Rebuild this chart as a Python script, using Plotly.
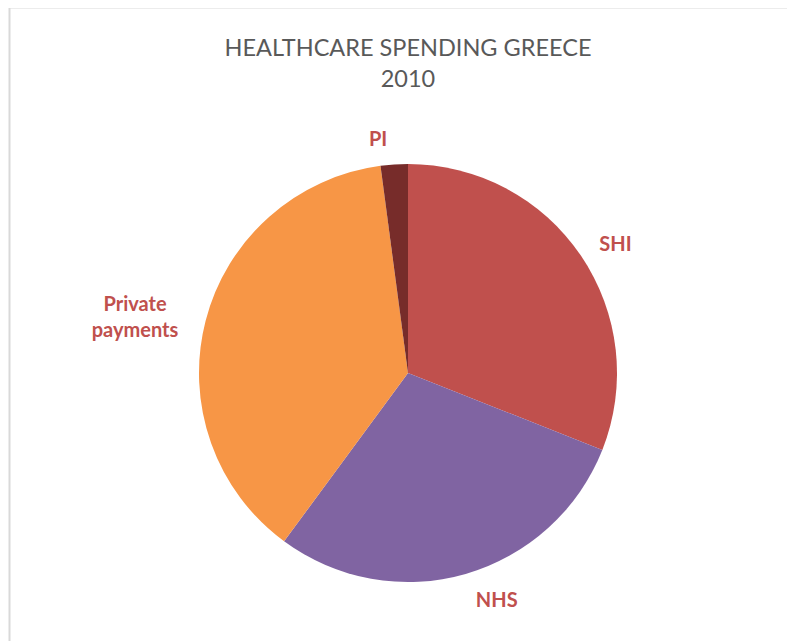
import plotly.graph_objects as go

labels = ["SHI", "NHS", "Private<br>payments", "PI"]
values = [31.0, 29.1, 37.8, 2.1]
colors = ["#C0504D", "#8064A2", "#F79646", "#772C2A"]
title_text = "HEALTHCARE SPENDING GREECE<br>2010"

W, H = 795, 641
OFF = 8  # page body margin
cx, cy, r = 408 - OFF, 373 - OFF, 209
rl = 224  # radius of the invisible label-carrying pie

def dom(rad):
    return dict(x=[(cx - rad) / W, (cx + rad) / W], y=[1 - (cy + rad) / H, 1 - (cy - rad) / H])

lab_font = dict(family="Lato", size=20, color="#C0504D", weight="bold")

fig = go.Figure()
fig.add_trace(go.Pie(
    labels=labels, values=values, sort=False, direction="clockwise", rotation=0,
    marker=dict(colors=["rgba(0,0,0,0)"] * len(values), line=dict(width=0)),
    textinfo="label", textposition="outside",
    textfont=lab_font, outsidetextfont=lab_font,
    showlegend=False, hoverinfo="skip", automargin=False, domain=dom(rl),
))
fig.add_trace(go.Pie(
    labels=labels, values=values, sort=False, direction="clockwise", rotation=0,
    marker=dict(colors=colors, line=dict(color="white", width=0)),
    textinfo="none",
    showlegend=False, hoverinfo="label+percent", automargin=False, domain=dom(r),
))

fig.update_layout(
    width=W, height=H,
    margin=dict(l=0, r=0, t=0, b=0),
    paper_bgcolor="white",
    plot_bgcolor="white",
    title=dict(text=title_text, x=(408 - OFF) / W, xanchor="center", y=1 - (56 - OFF) / H, yanchor="top",
               font=dict(family="Lato", size=23.5, color="#595959")),
    shapes=[
        dict(type="line", xref="paper", yref="paper", x0=(9.5 - OFF) / W, x1=1,
             y0=1 - (7.5 - OFF) / H, y1=1 - (7.5 - OFF) / H, line=dict(color="#D9D9D9", width=2)),
        dict(type="line", xref="paper", yref="paper", x0=(9.5 - OFF) / W, x1=(9.5 - OFF) / W,
             y0=0, y1=1 - (7.5 - OFF) / H, line=dict(color="#D9D9D9", width=2)),
    ],
)

fig.write_html("out.html")
